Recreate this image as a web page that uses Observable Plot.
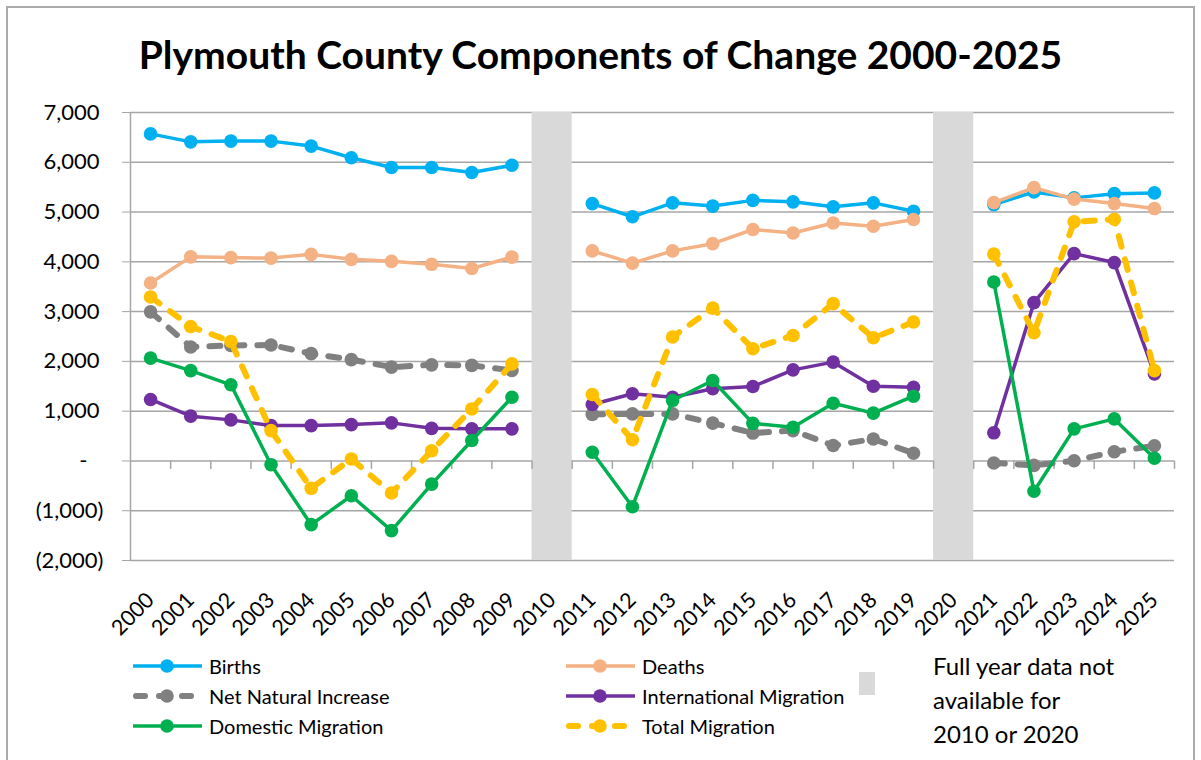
<!DOCTYPE html>
<html>
<head>
<meta charset="utf-8">
<script src="https://cdn.jsdelivr.net/npm/d3@7"></script>
<script src="https://cdn.jsdelivr.net/npm/@observablehq/plot@0.6"></script>
<style>
  html, body { margin: 0; padding: 0; background: #fff; overflow: hidden; }
  #wrap { position: relative; width: 1201px; height: 760px; font-family: Lato, "Open Sans", sans-serif; color: #000; }
  #border { position: absolute; left: 6px; top: 6px; width: 1189px; height: 800px; border: 2px solid #ababab; box-sizing: border-box; }
  #title { position: absolute; left: 0; width: 1201px; top: 30px; text-align: center; font-size: 39px; font-weight: bold; line-height: 48px; }
  #chart { position: absolute; left: 0; top: 95px; }
  .leg { position: absolute; font-size: 20px; line-height: 30px; white-space: nowrap; }
  .leg svg { position: absolute; }
  #note { position: absolute; left: 933px; top: 649px; font-size: 24px; line-height: 34px; }
  #noteSwatch { position: absolute; left: 859px; top: 672px; width: 16px; height: 23px; background: #d9d9d9; }
</style>
</head>
<body>
<div id="wrap">
  <div id="border"></div>
  <div id="title">Plymouth County Components of Change 2000-2025</div>
  <div id="chart"></div>
  <div id="legend"></div>
  <div id="noteSwatch"></div>
  <div id="note">Full year data not<br>available for<br>2010 or 2020</div>
</div>
<script>
// ---- Data ----
const years = [2000,2001,2002,2003,2004,2005,2006,2007,2008,2009,2010,2011,2012,2013,2014,2015,2016,2017,2018,2019,2020,2021,2022,2023,2024,2025];
const births = [6570,6410,6425,6425,6325,6090,5895,5895,5795,5940,null,5170,4905,5185,5120,5235,5205,5105,5185,5015,null,5150,5405,5285,5370,5385];
const deaths = [3575,4100,4085,4075,4150,4050,4010,3950,3865,4095,null,4220,3975,4220,4365,4650,4580,4780,4715,4850,null,5190,5490,5260,5170,5070];
const netNatural = [2995,2290,2320,2330,2155,2035,1885,1930,1920,1820,null,935,945,945,760,560,610,310,440,155,null,-40,-90,5,185,305];
const international = [1235,900,825,710,710,730,765,655,645,645,null,1135,1350,1280,1450,1495,1830,1985,1500,1480,null,565,3180,4165,3985,1750];
const domestic = [2065,1815,1530,-75,-1280,-700,-1400,-465,410,1280,null,175,-920,1215,1615,755,675,1160,960,1300,null,3595,-610,645,845,55];
const totalMigration = [3295,2700,2400,610,-550,40,-645,205,1045,1950,null,1335,425,2490,3070,2255,2520,3160,2475,2790,null,4155,2575,4805,4855,1815];
const missingYears = [2010, 2020];
const yTicksPos = [1000,2000,3000,4000,5000,6000,7000];
const yTicksZero = [0];
const yTicksNeg = [-1000,-2000];
const yGrid = [-2000,-1000,0,1000,2000,3000,4000,5000,6000,7000];

const seriesNames = ["Births","Deaths","Net Natural Increase","International Migration","Domestic Migration","Total Migration"];
const seriesValues = [births, deaths, netNatural, international, domestic, totalMigration];
const seriesColors = ["#00b0f0","#f4b183","#808080","#7030a0","#00b050","#ffc000"];
const seriesDashed = [false,false,true,false,false,true];

// ---- Build ----
const fmt = d3.format(",");
const yMin = -2000, yMax = 7000;
const x0 = years[0] - 0.5, x1 = years[years.length - 1] + 0.5;

const marks = [
  Plot.ruleY(yGrid, {stroke: "#a6a6a6", strokeWidth: 1.5}),
  Plot.rectY(missingYears, {x1: d => d - 0.5, x2: d => d + 0.5, y1: yMin, y2: yMax, fill: "#d9d9d9"}),
  Plot.ruleX([x0], {y1: yMin, y2: yMax, stroke: "#a6a6a6", strokeWidth: 1.5}),
  Plot.ruleX(years, {x: d => d + 0.5, y1: 0, y2: -170, stroke: "#a6a6a6", strokeWidth: 1.5}),
  Plot.axisY({ticks: yTicksPos, tickFormat: fmt, tickSize: 8, tickPadding: 23, stroke: "#a6a6a6", fill: "#000", fontSize: 22, label: null}),
  Plot.axisY({ticks: yTicksZero, tickFormat: () => "-", tickSize: 8, tickPadding: 35, stroke: "#a6a6a6", fill: "#000", fontSize: 22, label: null}),
  Plot.axisY({ticks: yTicksNeg, tickFormat: d => "(" + fmt(-d) + ")", tickSize: 8, tickPadding: 19, stroke: "#a6a6a6", fill: "#000", fontSize: 22, label: null}),
  Plot.axisX({ticks: years, tickFormat: d => String(d), tickRotate: -45, tickSize: 0, tickPadding: 36, fill: "#000", fontSize: 21.5, label: null})
];

seriesValues.forEach((vals, i) => {
  const data = years.map((y, j) => ({year: y, value: vals[j]}));
  const dashed = seriesDashed[i];
  marks.push(Plot.lineY(data, {
    x: "year", y: "value",
    stroke: seriesColors[i],
    strokeWidth: dashed ? 6 : 3.5,
    strokeDasharray: dashed ? "11,13" : null,
    strokeLinecap: dashed ? "round" : "butt",
    strokeLinejoin: "round"
  }));
  marks.push(Plot.dot(data.filter(d => d.value != null), {
    x: "year", y: "value", r: 6.8, fill: seriesColors[i], stroke: null
  }));
});

const chart = Plot.plot({
  width: 1201,
  height: 555,
  marginTop: 17,
  marginBottom: 90,
  marginLeft: 130,
  marginRight: 27,
  style: {fontFamily: "Lato, 'Open Sans', sans-serif", color: "#000", background: "transparent", overflow: "visible"},
  x: {type: "linear", domain: [x0, x1], axis: null},
  y: {domain: [yMin, yMax], axis: null},
  marks
});
document.getElementById("chart").appendChild(chart);

// ---- Legend ----
const legend = document.getElementById("legend");
const legPos = [
  {x: 132, y: 666}, {x: 565, y: 666},
  {x: 132, y: 696}, {x: 565, y: 696},
  {x: 132, y: 726}, {x: 565, y: 726}
];
seriesNames.forEach((name, i) => {
  const p = legPos[i];
  const div = document.createElement("div");
  div.className = "leg";
  div.style.left = p.x + "px";
  div.style.top = (p.y - 15) + "px";
  div.style.height = "30px";
  const dashed = seriesDashed[i];
  const svg = d3.create("svg").attr("width", 72).attr("height", 30).style("left", "0px").style("top", "0px");
  svg.append("line").attr("x1", dashed ? 4 : 1).attr("x2", dashed ? 66 : 70).attr("y1", 15).attr("y2", 15)
    .attr("stroke", seriesColors[i]).attr("stroke-width", dashed ? 6 : 3.5)
    .attr("stroke-dasharray", dashed ? "9,14" : null).attr("stroke-linecap", dashed ? "round" : "butt");
  svg.append("circle").attr("cx", 35).attr("cy", 15).attr("r", 6.8).attr("fill", seriesColors[i]);
  div.appendChild(svg.node());
  const span = document.createElement("span");
  span.textContent = name;
  span.style.position = "absolute";
  span.style.left = "77px";
  span.style.top = "0px";
  div.appendChild(span);
  legend.appendChild(div);
});
</script>
</body>
</html>
